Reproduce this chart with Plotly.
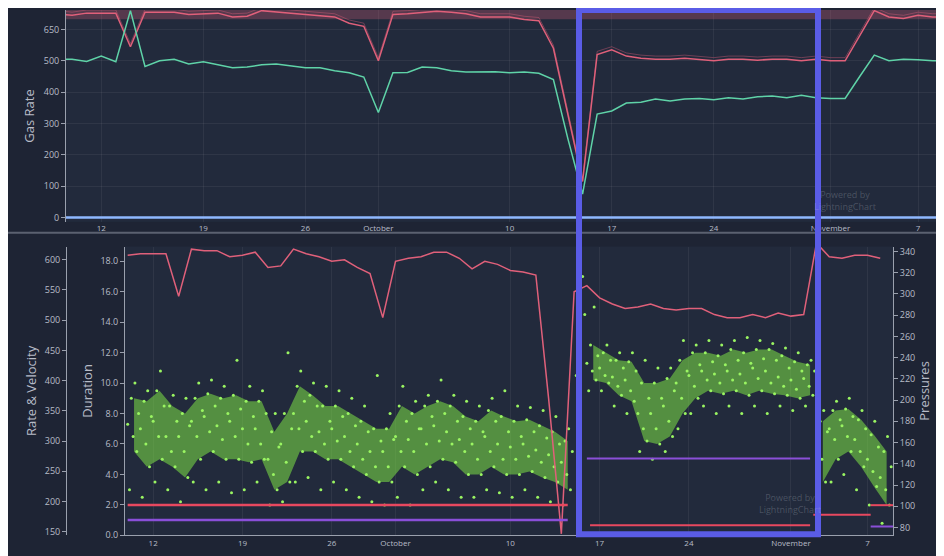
import plotly.graph_objects as go
import pandas as pd

# ---------------- data ----------------
top_dates = pd.date_range("2023-09-09", "2023-11-09", freq="D")
gas_green = [505,505,498,515,497,660,482,500,505,490,497,487,478,480,487,490,485,478,478,468,462,448,
             335,462,463,480,478,468,464,465,465,462,464,460,440,250,75,330,340,365,368,378,372,378,380,376,382,378,385,388,382,390,382,
             380,380,450,518,500,505,503,500,500]
gas_red = [650,645,652,652,652,545,655,655,655,648,650,652,640,642,660,655,652,648,645,640,620,610,
           500,648,650,655,658,655,650,640,640,640,632,628,540,330,115,520,535,515,508,505,505,508,505,500,505,505,502,505,505,500,505,
           500,500,580,660,640,635,645,640,640]
gas_blue = [0]*len(top_dates)

bot_dates = pd.date_range("2023-09-10", "2023-11-08", freq="D")
press_red = [18.4,18.5,18.5,18.5,15.7,18.8,18.7,18.7,18.3,18.4,18.6,17.6,17.7,18.8,18.5,18.3,18.0,18.1,17.6,17.2,14.3,
             18.0,18.2,18.3,18.6,18.6,18.2,17.5,18.0,17.8,17.4,17.3,17.1,9.0,0.1,16.0,16.4,15.6,15.2,14.9,15.0,15.2,14.9,14.8,14.9,14.9,14.5,14.3,14.3,14.5,14.3,14.6,
             14.4,14.5,19.2,18.3,18.2,18.4,18.4,18.2]

duration = {
 "2023-09-10":[3.0,5.5,6.5,7.3,8.0,9.0,10.0], "2023-09-11":[2.5,4.5,6.0,7.0,7.8,8.8,9.5],
 "2023-09-12":[3.5,5.0,6.5,7.5,8.5,9.5,10.8], "2023-09-13":[3.0,4.5,5.5,6.5,7.5,8.5,9.2],
 "2023-09-14":[2.2,3.8,5.5,6.5,7.2,8.0,9.0], "2023-09-15":[3.5,5.0,6.5,7.5,8.2,9.0,10.0],
 "2023-09-16":[3.0,5.5,6.8,7.8,8.5,9.3,10.2], "2023-09-17":[3.5,5.0,6.3,7.2,8.0,9.0,9.8],
 "2023-09-18":[2.8,5.0,6.5,7.5,8.3,9.2,11.5], "2023-09-19":[3.0,4.8,6.0,7.0,7.8,8.8,9.8],
 "2023-09-20":[3.5,5.0,6.0,7.0,8.0,8.8,9.5], "2023-09-21":[2.0,3.0,4.0,5.0,5.8,6.8,8.0],
 "2023-09-22":[2.2,3.5,4.8,6.0,7.0,8.0,12.0], "2023-09-23":[3.5,5.5,7.0,8.0,8.8,9.8,10.8],
 "2023-09-24":[3.8,5.5,6.5,7.5,8.5,9.2,10.0], "2023-09-25":[3.0,5.0,6.0,6.8,7.5,8.5,9.8],
 "2023-09-26":[3.5,5.0,6.2,7.0,7.8,8.5,9.5], "2023-09-27":[3.0,4.5,5.5,6.5,7.2,8.0,9.0],
 "2023-09-28":[2.5,4.0,5.0,6.0,6.8,7.5,8.5], "2023-09-29":[2.2,3.5,4.5,5.5,6.2,7.0,10.5],
 "2023-09-30":[2.0,3.5,4.5,5.5,6.3,7.0,8.0], "2023-10-01":[2.5,4.5,5.5,6.5,7.5,8.5,9.8],
 "2023-10-02":[2.0,4.0,5.5,6.3,7.0,8.0,8.8], "2023-10-03":[3.0,4.5,6.0,7.0,7.8,8.5,9.2],
 "2023-10-04":[3.5,5.0,6.2,7.2,8.0,8.8,10.2], "2023-10-05":[3.0,4.8,6.0,6.8,7.5,8.5,9.2],
 "2023-10-06":[2.5,4.0,5.5,6.3,7.0,7.8,8.8], "2023-10-07":[2.5,4.0,5.0,6.0,6.8,7.5,8.5],
 "2023-10-08":[3.0,4.5,5.5,6.5,7.5,8.2,9.0], "2023-10-09":[2.8,4.0,5.0,6.0,6.8,7.8,9.5],
 "2023-10-10":[2.5,4.0,5.0,5.8,6.5,7.5,8.5], "2023-10-11":[3.0,4.2,5.2,6.0,6.8,7.6,8.4],
 "2023-10-12":[2.5,3.8,4.8,5.6,6.4,7.2,8.2], "2023-10-13":[2.2,3.5,4.5,5.3,6.0,6.8,7.8],
 "2023-10-14":[2.0,3.0,4.0,4.8,5.5,6.2,7.0],
 "2023-10-16":[9.5,10.2,10.8,11.3,11.8,12.5,15.0], "2023-10-17":[9.5,10.0,10.5,11.0,11.5,12.0,12.5],
 "2023-10-18":[8.5,9.2,9.8,10.4,11.0,11.5,12.0], "2023-10-19":[8.0,8.8,9.5,10.2,10.8,11.4,12.0],
 "2023-10-20":[5.5,6.2,7.0,8.0,9.0,10.0,11.5], "2023-10-21":[5.0,6.0,7.0,8.0,9.0,10.0,11.0],
 "2023-10-22":[5.5,6.5,7.5,8.5,9.5,10.3,11.0], "2023-10-23":[7.0,8.0,9.0,10.0,10.8,11.5,12.8],
 "2023-10-24":[8.0,9.0,9.8,10.5,11.2,12.0,12.5], "2023-10-25":[8.5,9.5,10.2,10.8,11.4,12.0,12.8],
 "2023-10-26":[8.0,9.3,10.0,10.6,11.2,11.8,12.5], "2023-10-27":[8.5,9.5,10.2,10.8,11.5,12.2,12.8],
 "2023-10-28":[8.0,9.2,10.0,10.6,11.3,12.0,13.0], "2023-10-29":[8.5,9.5,10.3,11.0,11.6,12.2,12.8],
 "2023-10-30":[8.0,9.3,10.0,10.8,11.5,12.2,12.6], "2023-10-31":[8.5,9.2,9.8,10.4,11.0,11.8,12.3],
 "2023-11-01":[8.2,9.0,9.6,10.2,10.8,11.4,12.0], "2023-11-02":[8.5,9.2,9.8,10.3,10.8,11.2,11.5],
 "2023-11-03":[2.0,3.5,5.0,6.0,6.8,7.5,8.2], "2023-11-04":[3.5,5.0,6.3,7.0,7.6,8.2,8.8],
 "2023-11-05":[4.0,5.5,6.5,7.2,7.8,8.3,9.0], "2023-11-06":[3.0,4.5,5.5,6.3,7.0,7.6,8.2],
 "2023-11-07":[2.0,3.2,4.2,5.0,5.8,6.6,7.5], "2023-11-08":[0.8,2.0,3.0,3.8,4.5,5.5,6.5],
}
segments = [("2023-09-10","2023-10-14"),("2023-10-16","2023-11-02"),("2023-11-03","2023-11-08")]

press_lines = [("2023-10-16","2023-11-02 12:00",145,"#8a4fd8"),
               ("2023-10-16 06:00","2023-11-02 12:00",82,"#e8485f"),
               ("2023-11-02 18:00","2023-11-07 06:00",92,"#e8485f"),
               ("2023-11-07 06:00","2023-11-09",101,"#e8485f"),
               ("2023-11-07 06:00","2023-11-09",81,"#8a4fd8")]
dur_lines = [("2023-09-10","2023-10-14 12:00",2.0,"#e8485f"),
             ("2023-09-10","2023-10-14 12:00",1.0,"#8a4fd8")]

top_ticks = ["2023-09-12","2023-09-19","2023-09-26","2023-10-01","2023-10-10","2023-10-17","2023-10-24","2023-11-01","2023-11-07"]
top_text = ["12","19","26","October","10","17","24","November","7"]

# ---------------- figure ----------------
W, H = 944, 556
px = lambda v: v / W
py = lambda v: 1 - v / H
TXT = "#b8bcc8"
GRID = "rgba(255,255,255,0.06)"

fig = go.Figure()
fig.add_trace(go.Scatter(x=top_dates, y=[652]*len(top_dates), mode="lines", line=dict(color="rgba(224,96,122,0.28)", width=12), xaxis="x", yaxis="y", hoverinfo="skip"))
fig.add_trace(go.Scatter(x=top_dates, y=[v + 10 for v in gas_red], mode="lines", line=dict(color="rgba(224,96,122,0.4)", width=1), xaxis="x", yaxis="y", hoverinfo="skip"))
fig.add_trace(go.Scatter(x=top_dates, y=gas_red, mode="lines", line=dict(color="#e0607a", width=1.5), xaxis="x", yaxis="y"))
fig.add_trace(go.Scatter(x=top_dates, y=gas_green, mode="lines", line=dict(color="#5fd3a8", width=1.5), xaxis="x", yaxis="y"))
fig.add_trace(go.Scatter(x=top_dates, y=gas_blue, mode="lines", line=dict(color="#8fb8ff", width=2.5), xaxis="x", yaxis="y"))

for s, e in segments:
    days = [d for d in duration if s <= d <= e]
    xs = [pd.Timestamp(d) + pd.Timedelta(hours=12) for d in days]
    fig.add_trace(go.Scatter(x=xs, y=[duration[d][1] for d in days], mode="lines", line=dict(width=0), xaxis="x2", yaxis="y2", hoverinfo="skip"))
    fig.add_trace(go.Scatter(x=xs, y=[duration[d][5] for d in days], mode="lines", line=dict(width=0), fill="tonexty",
                             fillcolor="rgba(125,225,70,0.55)", xaxis="x2", yaxis="y2", hoverinfo="skip"))
order = [3, 0, 5, 2, 6, 1, 4]
sx, sy = [], []
for d, vals in duration.items():
    for k, i in enumerate(order):
        sx.append(pd.Timestamp(d) + pd.Timedelta(hours=24 * k / 7))
        sy.append(vals[i])
fig.add_trace(go.Scatter(x=sx, y=sy, mode="markers", marker=dict(color="#9af562", size=3), xaxis="x2", yaxis="y2"))
fig.add_trace(go.Scatter(x=["2023-10-15 04:00","2023-10-15 10:00","2023-10-15 16:00","2023-10-15 20:00"], y=[10.5,12.0,17.0,14.5],
                         mode="markers", marker=dict(color="#9af562", size=3), xaxis="x2", yaxis="y2"))
fig.add_trace(go.Scatter(x=bot_dates, y=press_red, mode="lines", line=dict(color="#e0607a", width=1.5), xaxis="x2", yaxis="y2"))
for s, e, v, c in dur_lines:
    fig.add_trace(go.Scatter(x=[s, e], y=[v, v], mode="lines", line=dict(color=c, width=2.5), xaxis="x2", yaxis="y2"))
for s, e, v, c in press_lines:
    fig.add_trace(go.Scatter(x=[s, e], y=[v, v], mode="lines", line=dict(color=c, width=2), xaxis="x2", yaxis="y3"))

xrng_top = ["2023-09-09 14:00", "2023-11-08 22:00"]
xrng_bot = ["2023-09-09 19:00", "2023-11-09 00:00"]
axfont = dict(color=TXT, size=9)
tf = dict(size=13, color=TXT)

fig.update_layout(
    width=W, height=H, margin=dict(l=0, r=0, t=0, b=0),
    paper_bgcolor="#1e2434", plot_bgcolor="#222a3c", showlegend=False,
    font=dict(family="Open Sans", color=TXT),
    xaxis=dict(domain=[px(58), px(938)], anchor="y", type="date", range=xrng_top, tickvals=top_ticks, ticktext=top_text,
               tickfont=dict(color=TXT, size=8), showgrid=True, gridcolor=GRID, zeroline=False, showline=False),
    yaxis=dict(domain=[py(215), 1.0], anchor="x", range=[-14, 662], tickvals=[0,100,200,300,400,500,600],
               ticktext=["0","100","200","300","400","500","650"], tickfont=axfont, gridcolor=GRID, zeroline=False,
               showline=True, linecolor="#9aa0ad", ticks="outside", ticklen=4, tickcolor="#9aa0ad",
               title=dict(text="Gas Rate", font=tf, standoff=6)),
    xaxis2=dict(domain=[px(117), px(885)], anchor="y2", type="date", range=xrng_bot, tickvals=top_ticks, ticktext=top_text,
                tickfont=dict(color=TXT, size=8), showgrid=True, gridcolor=GRID, zeroline=False,
                showline=True, linecolor="#9aa0ad"),
    yaxis2=dict(domain=[py(533), py(240)], anchor="x2", range=[0, 18.97], tickvals=[0,2,4,6,8,10,12,14,16,18], tickformat=".1f",
                tickfont=axfont, showgrid=False, zeroline=False, showline=True, linecolor="#9aa0ad",
                ticks="outside", ticklen=4, tickcolor="#9aa0ad",
                title=dict(text="Duration", font=tf, standoff=4)),
    yaxis3=dict(overlaying="y2", side="right", anchor="x2", range=[72.6, 344.6],
                tickvals=[80,100,120,140,160,180,200,220,240,260,280,300,320,340],
                tickfont=axfont, showgrid=False, zeroline=False, showline=True, linecolor="#9aa0ad",
                ticks="outside", ticklen=4, tickcolor="#9aa0ad",
                title=dict(text="Pressures", font=tf, standoff=4)),
    yaxis4=dict(overlaying="y2", side="left", anchor="free", position=px(58), range=[144, 621.7],
                tickvals=[150,200,250,300,350,400,450,500,550,600], tickfont=axfont, showgrid=False, zeroline=False,
                showline=True, linecolor="#9aa0ad", ticks="outside", ticklen=4, tickcolor="#9aa0ad",
                title=dict(text="Rate & Velocity", font=tf, standoff=4)),
)
fig.add_trace(go.Scatter(x=[xrng_bot[0]], y=[144], mode="markers", marker=dict(opacity=0), xaxis="x2", yaxis="y4", hoverinfo="skip"))

fig.add_shape(type="line", xref="paper", yref="paper", x0=0, x1=1, y0=py(226), y1=py(226), line=dict(color="#5b6170", width=2))
fig.add_shape(type="line", xref="paper", yref="paper", x0=px(935), x1=px(935), y0=py(533), y1=py(245), line=dict(color="#5b6170", width=1))
fig.add_shape(type="rect", xref="paper", yref="paper", x0=px(571), x1=px(810), y0=py(532), y1=1.0,
              line=dict(color="#5a5ce6", width=6))
fig.add_annotation(text="Powered by<br>LightningChart", xref="paper", yref="paper", x=px(870), y=py(193), showarrow=False,
                   font=dict(size=9, color="rgba(200,205,215,0.25)"))
fig.add_annotation(text="Powered by<br>LightningChart", xref="paper", yref="paper", x=px(815), y=py(515), showarrow=False,
                   font=dict(size=9, color="rgba(200,205,215,0.25)"))

fig.write_html("out.html")
